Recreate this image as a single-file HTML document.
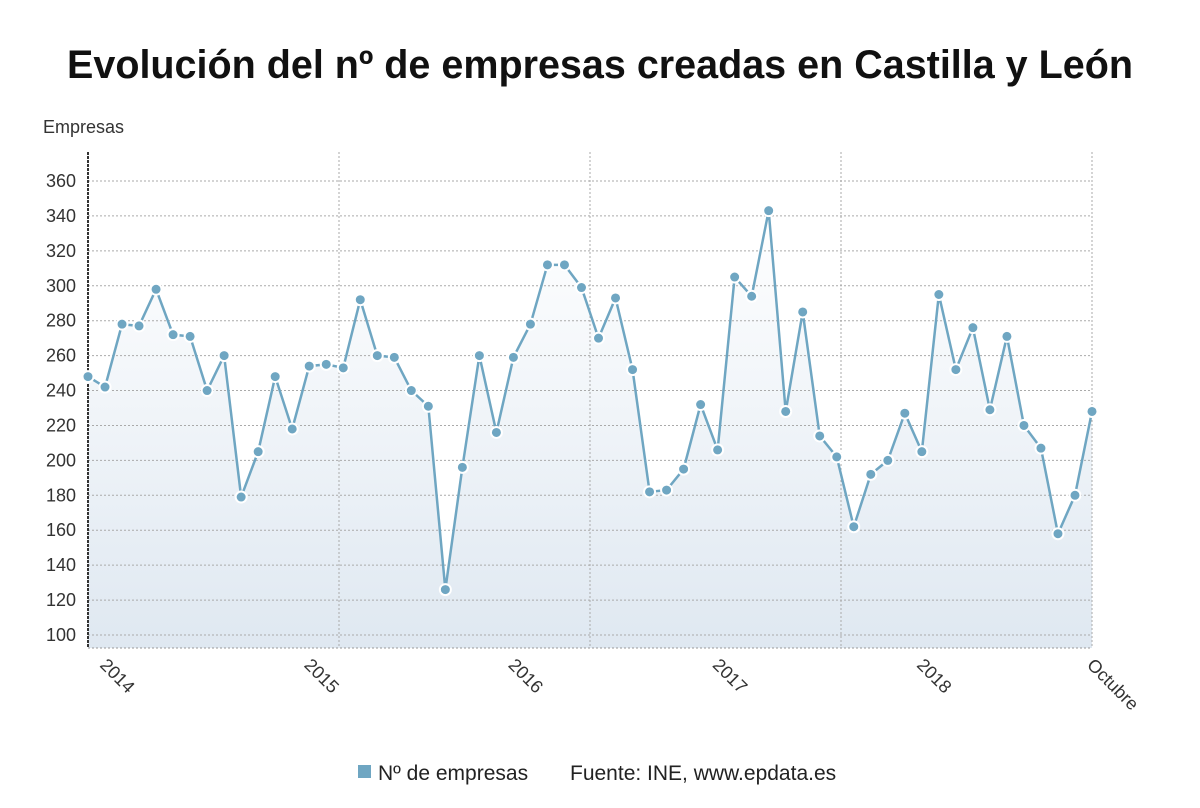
<!DOCTYPE html>
<html><head><meta charset="utf-8">
<style>
html,body{margin:0;padding:0;background:#fff;width:1200px;height:808px;overflow:hidden;font-family:"Liberation Sans","DejaVu Sans",sans-serif;}
</style></head>
<body>
<svg width="1200" height="808" viewBox="0 0 1200 808">
<defs>
<linearGradient id="g" x1="0" y1="0" x2="0" y2="1">
<stop offset="0" stop-color="#ffffff"/>
<stop offset="1" stop-color="#dfe8f1"/>
</linearGradient>
</defs>
<text x="600" y="78" text-anchor="middle" font-size="39.5" font-weight="bold" fill="#111">Evolución del nº de empresas creadas en Castilla y León</text>
<text x="43" y="133" font-size="18" fill="#333">Empresas</text>
<g id="grid"></g>
<g id="plot"></g>
<g id="labels"></g>
<rect x="358" y="765" width="13" height="13" fill="#6fa6c2"/>
<text x="378" y="780" font-size="21" fill="#222">Nº de empresas</text>
<text x="570" y="780" font-size="21" fill="#222">Fuente: INE, www.epdata.es</text>
</svg>
<script>
const values=[248,
242,278,277,298,272,271,240,260,179,205,248,218,
254,255,253,292,260,259,240,231,126,196,260,216,
259,278,312,312,299,270,293,252,182,183,195,232,
206,305,294,343,228,285,214,202,162,192,200,227,
205,295,252,276,229,271,220,207,158,180,228];
const yTicks=[100,120,140,160,180,200,220,240,260,280,300,320,340,360];
const xLabels=["2014","2015","2016","2017","2018","Octubre"];
const xLabelIdx=[1,13,25,37,49,59];
const NS="http://www.w3.org/2000/svg";
const px0=88,px1=1092,pTop=152,pBottom=648;
const X=i=>px0+(px1-px0)*i/(values.length-1);
const Y=v=>635-(v-100)*(635-181)/260;
function mk(t,a,p){const e=document.createElementNS(NS,t);for(const k in a)e.setAttribute(k,a[k]);p.appendChild(e);return e;}
const grid=document.getElementById('grid'),plot=document.getElementById('plot'),lab=document.getElementById('labels');
let d=`M${X(0)},${pBottom}`;values.forEach((v,i)=>d+=`L${X(i)},${Y(v)}`);d+=`L${X(values.length-1)},${pBottom}Z`;
const area=mk('path',{d:d,fill:'url(#g)'},grid);


yTicks.forEach(t=>{
 const l=mk('line',{x1:px0,x2:px1,y1:Y(t),y2:Y(t),stroke:'#aaa','stroke-dasharray':'2,2','stroke-width':1},grid);
 
 
 const tx=mk('text',{x:76,y:Y(t)+6,'text-anchor':'end','font-size':18,fill:'#333'},lab);
 tx.textContent=t;
 
 
});
[339,590,841,1092].forEach(x=>{
 const l=mk('line',{x1:x,x2:x,y1:pTop,y2:pBottom,stroke:'#aaa','stroke-dasharray':'2,2'},grid);
 
 
});
const ax=mk('line',{x1:px0,x2:px0,y1:pTop,y2:pBottom,stroke:'#333','stroke-width':2,'stroke-dasharray':'3,1'},grid);


const bl=mk('line',{x1:px0,x2:px1,y1:pBottom,y2:pBottom,stroke:'#999','stroke-dasharray':'2,2'},grid);


const line=mk('polyline',{points:values.map((v,i)=>X(i)+','+Y(v)).join(' '),fill:'none',stroke:'#6fa6c2','stroke-width':2.5},plot);


values.forEach((v,i)=>{
 const c=mk('circle',{cx:X(i),cy:Y(v),r:5.5,fill:'#6fa6c2',stroke:'#fff','stroke-width':2},plot);
 
 
});
xLabels.forEach((s,k)=>{
 const x=X(xLabelIdx[k]);
 const t=mk('text',{x:x-6,y:666,'font-size':18,fill:'#333',transform:`rotate(45 ${x-6} 666)`},lab);
 t.textContent=s;
 
 
});
</script>
</body></html>
